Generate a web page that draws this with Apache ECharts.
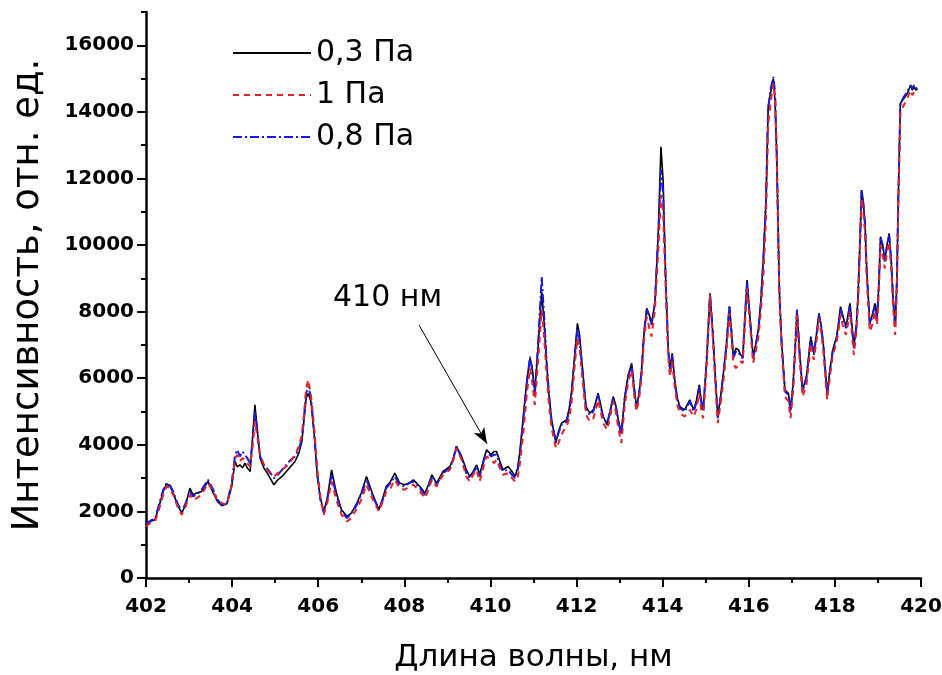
<!DOCTYPE html>
<html><head><meta charset="utf-8">
<script src="https://cdn.jsdelivr.net/npm/echarts@6/dist/echarts.min.js"></script>
<style>html,body{margin:0;padding:0;background:#fff}#c{width:942px;height:675px}</style>
</head><body><div id="c"></div>
<script>
const wavelength = [402.00,402.10,402.21,402.30,402.40,402.48,402.56,402.63,402.73,402.83,402.92,403.02,403.09,403.18,403.29,403.44,403.56,403.66,403.76,403.88,403.99,404.07,404.12,404.18,404.24,404.30,404.35,404.42,404.48,404.53,404.58,404.65,404.74,404.84,404.97,405.06,405.16,405.26,405.36,405.46,405.55,405.62,405.67,405.72,405.77,405.83,405.91,405.98,406.05,406.13,406.21,406.31,406.42,406.54,406.67,406.77,406.88,407.00,407.12,407.27,407.41,407.50,407.58,407.68,407.78,407.89,408.01,408.11,408.21,408.36,408.48,408.56,408.64,408.75,408.90,409.06,409.14,409.21,409.33,409.44,409.52,409.60,409.68,409.75,409.83,409.91,410.02,410.08,410.14,410.22,410.29,410.41,410.50,410.57,410.63,410.68,410.76,410.85,410.92,410.97,411.03,411.10,411.19,411.25,411.30,411.36,411.42,411.52,411.58,411.65,411.71,411.77,411.83,411.88,411.95,412.02,412.07,412.12,412.22,412.31,412.39,412.45,412.50,412.56,412.62,412.71,412.78,412.85,412.91,412.97,413.04,413.12,413.20,413.28,413.34,413.39,413.45,413.51,413.57,413.63,413.69,413.74,413.82,413.90,413.96,414.01,414.07,414.13,414.17,414.22,414.28,414.34,414.40,414.51,414.57,414.63,414.72,414.78,414.85,414.90,414.94,415.02,415.10,415.17,415.23,415.28,415.34,415.41,415.48,415.55,415.60,415.64,415.70,415.76,415.81,415.86,415.91,415.96,416.03,416.10,416.16,416.22,416.28,416.34,416.40,416.45,416.51,416.57,416.61,416.65,416.71,416.76,416.84,416.92,416.97,417.03,417.08,417.12,417.18,417.25,417.34,417.44,417.51,417.57,417.63,417.68,417.73,417.82,417.88,417.95,418.04,418.09,418.13,418.20,418.26,418.35,418.44,418.50,418.54,418.58,418.62,418.66,418.70,418.74,418.81,418.87,418.93,418.98,419.02,419.06,419.11,419.16,419.21,419.26,419.31,419.35,419.40,419.44,419.47,419.52,419.56,419.60,419.64,419.68,419.72,419.76,419.80,419.84,419.88,419.92];

const p03 = [1600,1700,1750,2150,2600,2830,2750,2560,2200,1950,2200,2700,2500,2550,2600,2900,2560,2300,2170,2230,2750,3500,3340,3400,3310,3450,3310,3200,4300,5200,4500,3600,3300,3100,2800,2950,3050,3200,3350,3500,3750,4100,4750,5400,5550,5300,4250,3050,2400,2000,2400,3250,2560,2050,1850,1950,2200,2550,3050,2500,2050,2400,2750,2900,3150,2850,2800,2850,2950,2750,2550,2800,3100,2850,3200,3350,3600,3950,3650,3250,3050,3200,3400,3100,3500,3850,3700,3800,3800,3500,3250,3350,3200,3050,3300,3750,4800,6000,6600,6300,5600,6800,8600,7600,6550,5500,4750,4060,4400,4650,4700,4750,5100,5550,6600,7650,7300,6550,5150,4950,5050,5300,5550,5200,4850,4600,5000,5450,5200,4750,4350,5450,6100,6450,5700,5150,5500,6250,7400,8100,7900,7650,8250,10450,12950,11950,8950,6850,6250,6750,5950,5400,5150,5050,5200,5350,5050,5300,5800,5300,5050,6500,8550,7250,5900,4850,5400,6150,7000,8150,7400,6650,6900,6850,6700,6650,7800,8950,7800,6650,7000,7450,8300,9650,11350,14150,14600,15000,14300,12650,8650,7150,5650,5550,5050,5850,7000,8050,6800,5650,6050,7250,6750,7300,7950,7600,7050,5550,6200,6850,7250,7700,8150,7800,7550,8250,6950,7600,8550,10000,11650,11300,10650,9250,7650,7900,8250,7850,8800,10250,10000,9550,10000,10350,9500,8450,7550,9000,11250,14250,14300,14400,14350,14550,14500,14800,14650,14750,14650,14700];

const p1 = [1550,1650,1700,2050,2500,2750,2700,2500,2150,1900,2150,2500,2350,2400,2500,2850,2600,2350,2250,2200,2800,3600,3700,3500,3600,3550,3450,3350,4000,4700,4300,3700,3400,3200,3050,3150,3250,3350,3500,3700,3950,4300,4900,5700,5950,5500,4450,3250,2450,1900,2250,2900,2350,1900,1700,1800,2050,2350,2800,2350,2000,2300,2600,2700,2950,2700,2650,2750,2800,2600,2400,2650,2950,2750,3100,3250,3550,3900,3550,3050,2900,3100,3250,2900,3300,3650,3550,3450,3550,3300,3100,3150,3000,2900,3000,3400,4300,5600,6300,5900,5200,6400,8050,7200,6200,5200,4500,3900,4050,4300,4450,4550,4800,5200,6300,7200,6900,6200,4900,4700,4800,5050,5350,5000,4650,4450,4850,5300,5000,4500,4050,5200,5900,6250,5500,5000,5350,6050,7200,7850,7500,7250,8050,9900,11500,11000,8700,6650,6050,6500,5750,5200,4950,4850,4950,5050,4850,5050,5550,5000,4800,6300,8500,7100,5700,4650,5200,5900,6800,7950,7200,6450,6300,6400,6500,6450,7600,8700,7600,6450,6800,7200,8000,9100,10800,13600,14300,14850,14500,12600,8500,7000,5450,5300,4800,5600,6800,7900,6600,5450,5800,7050,6550,7100,7800,7400,6850,5350,6000,6700,7050,7500,7900,7500,7300,8000,6700,7400,8300,9800,11400,11000,10400,9000,7400,7600,8000,7600,8600,10000,9700,9300,9800,10100,9300,8200,7300,8700,10900,14000,14100,14200,14150,14400,14350,14650,14500,14600,14550,14600];

const p08 = [1620,1720,1780,2200,2650,2850,2780,2600,2250,2000,2250,2600,2450,2500,2650,2950,2650,2350,2200,2250,2850,3700,3850,3650,3800,3700,3600,3450,4200,5000,4500,3650,3400,3250,3000,3100,3250,3400,3550,3650,3850,4200,4850,5550,5750,5450,4350,3100,2350,1950,2350,3100,2500,2000,1800,1950,2150,2500,2950,2450,2050,2350,2700,2850,3050,2800,2750,2850,2900,2700,2500,2750,3050,2800,3150,3300,3600,3950,3600,3150,3000,3150,3350,3050,3450,3800,3650,3700,3700,3400,3200,3250,3100,3000,3200,3650,4700,5900,6650,6250,5500,6900,9050,7800,6600,5500,4700,4100,4350,4600,4650,4700,5000,5450,6500,7500,7150,6450,5050,4900,5000,5300,5500,5150,4800,4650,5000,5400,5150,4700,4300,5400,6050,6400,5650,5100,5500,6200,7400,8050,7850,7600,8250,10300,12250,11600,9000,6800,6200,6700,5900,5350,5100,5000,5150,5300,5000,5250,5750,5250,5000,6500,8550,7250,5850,4800,5350,6100,7000,8200,7350,6600,6800,6800,6650,6600,7800,8900,7750,6600,6950,7400,8250,9600,11300,14100,14700,15050,14600,12700,8600,7100,5600,5500,5000,5800,7000,8100,6750,5600,6000,7200,6700,7250,7900,7550,7000,5500,6150,6800,7200,7650,8100,7750,7500,8200,6900,7550,8500,10000,11650,11250,10600,9200,7600,7850,8200,7800,8750,10200,10000,9500,10000,10300,9450,8400,7500,8900,11200,14200,14350,14450,14400,14600,14550,14800,14700,14800,14700,14750];

const seriesNames = ['0,3 Па', '1 Па', '0,8 Па'];
const xMajorTicks = [402,404,406,408,410,412,414,416,418,420];
const xMinorTicks = [403,405,407,409,411,413,415,417,419];
const yMajorTicks = [0,2000,4000,6000,8000,10000,12000,14000,16000];
const yMinorTicks = [1000,3000,5000,7000,9000,11000,13000,15000,17000];
const annotationText = '410 нм';
const annotationFrom = [408.34, 7600];
const annotationTo = [409.92, 4030];

const pairs = vals => wavelength.map((w, i) => [w, vals[i]]);
const FONT = "'DejaVu Sans', sans-serif";

const chart = echarts.init(document.getElementById('c'), null, {renderer: 'canvas'});
chart.setOption({
  backgroundColor: '#fff',
  animation: false,
  grid: {left: 146, right: 21, top: 12, bottom: 97, containLabel: false, outerBoundsMode: 'none'},
  legend: {
    data: seriesNames,
    orient: 'vertical',
    left: 227, top: 33,
    itemWidth: 78, itemHeight: 14, itemGap: 12,
    itemStyle: {color: 'rgba(0,0,0,0)', borderColor: 'rgba(0,0,0,0)', borderWidth: 0, opacity: 0},
    textStyle: {fontFamily: FONT, fontSize: 30, color: '#000'},
    selectedMode: false
  },
  xAxis: [
    {
      type: 'value', min: 402, max: 420,
      name: 'Длина волны, нм', nameLocation: 'middle', nameGap: 64,
      nameTextStyle: {fontFamily: FONT, fontSize: 31, color: '#000'},
      axisLine: {show: true, lineStyle: {color: '#000', width: 2.5}},
      axisTick: {show: true, customValues: xMajorTicks, length: 9, lineStyle: {color: '#000', width: 2}},
      axisLabel: {show: true, customValues: xMajorTicks, fontFamily: FONT, fontWeight: 'bold', fontSize: 20, color: '#000', margin: 19},
      splitLine: {show: false}
    },
    {
      type: 'value', min: 402, max: 420, position: 'bottom',
      axisLine: {show: false},
      axisTick: {show: true, customValues: xMinorTicks, length: 5, lineStyle: {color: '#000', width: 2}},
      axisLabel: {show: false},
      splitLine: {show: false}
    }
  ],
  yAxis: [
    {
      type: 'value', min: 0, max: 17000,
      name: 'Интенсивность, отн. ед.', nameLocation: 'middle', nameGap: 99,
      nameTextStyle: {fontFamily: FONT, fontSize: 37, color: '#000'},
      axisLine: {show: true, lineStyle: {color: '#000', width: 2.5}},
      axisTick: {show: true, customValues: yMajorTicks, length: 9, lineStyle: {color: '#000', width: 2}},
      axisLabel: {show: true, customValues: yMajorTicks, formatter: v => String(v), fontFamily: FONT, fontWeight: 'bold', fontSize: 20, color: '#000', margin: 12},
      splitLine: {show: false}
    },
    {
      type: 'value', min: 0, max: 17000, position: 'left',
      axisLine: {show: false},
      axisTick: {show: true, customValues: yMinorTicks, length: 5, lineStyle: {color: '#000', width: 2}},
      axisLabel: {show: false},
      splitLine: {show: false}
    }
  ],
  series: [
    {
      name: seriesNames[0], type: 'line', data: pairs(p03), symbol: 'none', z: 2,
      lineStyle: {color: '#000000', width: 1.6, type: 'solid'}, itemStyle: {color: '#000000'},
      markLine: {
        silent: true, symbol: ['none', 'arrow'], symbolSize: [9, 16],
        label: {show: false},
        lineStyle: {color: '#000', width: 1, type: 'solid'},
        data: [[{coord: annotationFrom}, {coord: annotationTo}]]
      }
    },
    {
      name: seriesNames[2], type: 'line', data: pairs(p08), symbol: 'none', z: 3,
      lineStyle: {color: '#1a1ae6', width: 2, type: [9, 3, 2, 3]}, itemStyle: {color: '#1a1ae6'}
    },
    {
      name: seriesNames[1], type: 'line', data: pairs(p1), symbol: 'none', z: 4,
      lineStyle: {color: '#e0222a', width: 2, type: [6, 5]}, itemStyle: {color: '#e0222a'}
    }
  ],
  graphic: [
    {type: 'text', left: 333, top: 283, style: {text: annotationText, font: "30px 'DejaVu Sans', sans-serif", fill: '#000'}}
  ]
});
</script>
</body></html>
